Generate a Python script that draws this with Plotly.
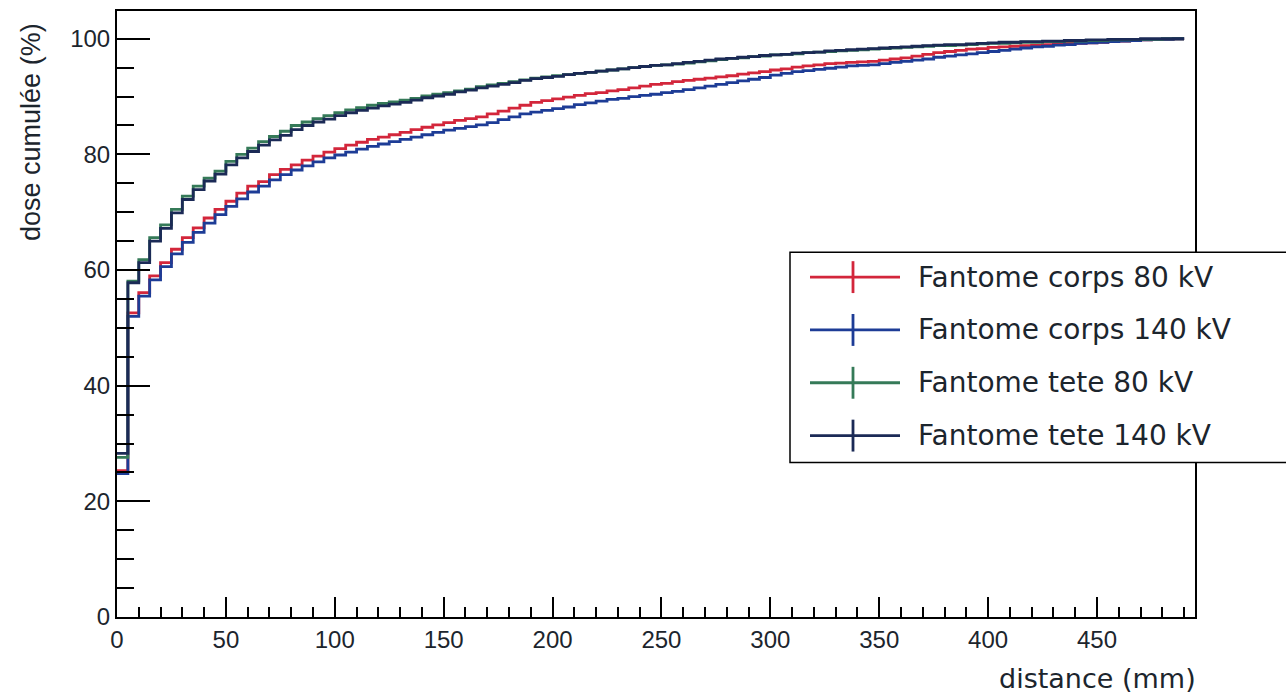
import plotly.graph_objects as go

# Cumulative dose histograms, 5 mm bins starting at 0 mm
BIN_WIDTH = 5.0

series_names = [
    "Fantome corps 80 kV",
    "Fantome corps 140 kV",
    "Fantome tete 80 kV",
    "Fantome tete 140 kV",
]

corps_80kv = [
    25.3, 52.6, 56.1, 59.0, 61.3, 63.6, 65.6, 67.3, 69.0, 70.5,
    71.9, 73.3, 74.5, 75.3, 76.5, 77.4, 78.2, 79.0, 79.7, 80.4,
    81.0, 81.6, 82.1, 82.6, 83.0, 83.4, 83.8, 84.3, 84.7, 85.1,
    85.5, 85.9, 86.2, 86.5, 87.0, 87.5, 88.0, 88.5, 89.0, 89.3,
    89.6, 89.9, 90.2, 90.5, 90.7, 91.0, 91.2, 91.5, 91.8, 92.1,
    92.3, 92.6, 92.8, 93.0, 93.2, 93.4, 93.6, 93.9, 94.1, 94.3,
    94.6, 94.8, 95.1, 95.3, 95.5, 95.7, 95.8, 95.9, 96.0, 96.1,
    96.3, 96.5, 96.7, 97.0, 97.3, 97.6, 97.8, 98.0, 98.2, 98.3,
    98.5, 98.6, 98.7, 98.8, 98.9, 99.0, 99.1, 99.2, 99.2, 99.3,
    99.4, 99.5, 99.6, 99.7, 99.8, 99.9, 99.9, 100.0,
]

corps_140kv = [
    24.8, 52.0, 55.5, 58.3, 60.6, 62.8, 64.8, 66.5, 68.1, 69.6,
    71.0, 72.3, 73.5, 74.5, 75.6, 76.5, 77.3, 78.0, 78.7, 79.4,
    79.9, 80.4, 80.9, 81.4, 81.8, 82.2, 82.6, 83.0, 83.4, 83.8,
    84.2, 84.5, 84.8, 85.1, 85.5, 86.0, 86.5, 87.0, 87.3, 87.6,
    87.9, 88.2, 88.6, 88.9, 89.2, 89.5, 89.7, 90.0, 90.2, 90.4,
    90.7, 90.9, 91.2, 91.5, 91.8, 92.1, 92.4, 92.7, 93.0, 93.3,
    93.7, 94.0, 94.3, 94.5, 94.7, 94.9, 95.1, 95.3, 95.4, 95.5,
    95.7, 95.9, 96.1, 96.3, 96.5, 96.8, 97.0, 97.2, 97.4, 97.6,
    97.8, 98.0, 98.2, 98.4, 98.6, 98.7, 98.9, 99.0, 99.2, 99.3,
    99.4, 99.5, 99.6, 99.7, 99.8, 99.9, 99.9, 100.0,
]

tete_80kv = [
    27.6, 58.1, 61.8, 65.6, 67.8, 70.5, 72.8, 74.5, 75.9, 77.1,
    78.8, 80.0, 81.1, 82.2, 83.1, 84.0, 85.0, 85.6, 86.2, 86.7,
    87.2, 87.7, 88.1, 88.5, 88.8, 89.1, 89.4, 89.7, 90.1, 90.4,
    90.7, 91.0, 91.3, 91.7, 92.0, 92.3, 92.6, 92.9, 93.2, 93.4,
    93.6, 93.8, 94.0, 94.2, 94.4, 94.6, 94.8, 95.0, 95.2, 95.4,
    95.5, 95.6, 95.8, 96.0, 96.2, 96.4, 96.6, 96.7, 96.9, 97.0,
    97.2, 97.3, 97.4, 97.6, 97.7, 97.8, 97.9, 98.0, 98.1, 98.2,
    98.3, 98.4, 98.5, 98.6, 98.7, 98.8, 98.8, 98.9, 99.0, 99.1,
    99.2, 99.2, 99.3, 99.4, 99.4, 99.5, 99.5, 99.6, 99.6, 99.7,
    99.7, 99.8, 99.8, 99.9, 99.9, 99.9, 100.0, 100.0,
]

tete_140kv = [
    28.3, 57.8, 61.3, 65.0, 67.2, 69.9, 72.2, 73.9, 75.4, 76.6,
    78.2, 79.4, 80.5, 81.6, 82.5, 83.3, 84.3, 85.0, 85.6, 86.1,
    86.7, 87.2, 87.6, 88.0, 88.4, 88.7, 89.0, 89.4, 89.8, 90.1,
    90.4, 90.8, 91.1, 91.5, 91.8, 92.1, 92.4, 92.8, 93.1, 93.3,
    93.5, 93.8, 94.0, 94.2, 94.4, 94.6, 94.8, 95.0, 95.2, 95.4,
    95.5, 95.7, 95.9, 96.1, 96.3, 96.5, 96.6, 96.8, 96.9, 97.1,
    97.2, 97.3, 97.5, 97.6, 97.7, 97.9, 98.0, 98.1, 98.2, 98.3,
    98.4, 98.5, 98.6, 98.7, 98.8, 98.9, 99.0, 99.0, 99.1, 99.2,
    99.3, 99.4, 99.4, 99.5, 99.5, 99.6, 99.6, 99.7, 99.7, 99.8,
    99.8, 99.9, 99.9, 99.9, 100.0, 100.0, 100.0, 100.0,
]

series_values = [corps_80kv, corps_140kv, tete_80kv, tete_140kv]
series_colors = ["#d3263b", "#1d3c96", "#357a58", "#1b2a56"]

X_RANGE = [0, 495]
Y_RANGE = [0, 104.8]
X_TICKS = [0, 50, 100, 150, 200, 250, 300, 350, 400, 450]
Y_TICKS = [0, 20, 40, 60, 80, 100]

W, H = 1286, 694
M_L, M_R, M_T, M_B = 117, 91, 9, 77
PW, PH = W - M_L - M_R, H - M_T - M_B

TEXT_COLOR = "#1c252d"
FONT = "Liberation Sans, Arial, Helvetica, sans-serif"
WIDE_FONT = "DejaVu Sans, Verdana, sans-serif"


def px_to_paper(px, py):
    return (px - M_L) / PW, (H - M_B - py) / PH


fig = go.Figure()

for name, vals, color in zip(series_names, series_values, series_colors):
    edges = [i * BIN_WIDTH for i in range(len(vals) + 1)]
    fig.add_trace(go.Scatter(
        x=edges,
        y=vals + [vals[-1]],
        mode="lines",
        line=dict(color=color, width=2.8, shape="hv"),
        name=name,
        showlegend=False,
        hoverinfo="skip",
    ))

shapes = []
annotations = []

# Legend box (white, drawn over the frame's right edge)
bx0, by0 = px_to_paper(790, 462)
bx1, by1 = px_to_paper(1310, 251)
shapes.append(dict(type="rect", xref="paper", yref="paper",
                   x0=bx0, y0=by0, x1=bx1, y1=by1,
                   line=dict(color="black", width=1.5), fillcolor="white",
                   layer="above"))

row_y = [276, 329, 382, 435]
for name, color, ry in zip(series_names, series_colors, row_y):
    lx0, ly = px_to_paper(810, ry)
    lx1, _ = px_to_paper(900, ry)
    cx, cy0 = px_to_paper(853, ry + 16)
    _, cy1 = px_to_paper(853, ry - 16)
    shapes.append(dict(type="line", xref="paper", yref="paper",
                       x0=lx0, x1=lx1, y0=ly, y1=ly,
                       line=dict(color=color, width=2.8), layer="above"))
    shapes.append(dict(type="line", xref="paper", yref="paper",
                       x0=cx, x1=cx, y0=cy0, y1=cy1,
                       line=dict(color=color, width=2.8), layer="above"))
    tx, ty = px_to_paper(916, ry)
    annotations.append(dict(xref="paper", yref="paper", x=tx, y=ty,
                            xanchor="left", yanchor="middle", showarrow=False,
                            text=name,
                            font=dict(family=WIDE_FONT, size=28, color=TEXT_COLOR)))

# Axis titles, aligned to the axis ends
tx, ty = px_to_paper(1198, 679)
annotations.append(dict(xref="paper", yref="paper", x=tx, y=ty,
                        xanchor="right", yanchor="middle", showarrow=False,
                        text="distance (mm)",
                        font=dict(family=WIDE_FONT, size=27, color=TEXT_COLOR)))
tx, ty = px_to_paper(31, 19)
annotations.append(dict(xref="paper", yref="paper", x=tx, y=ty,
                        xanchor="center", yanchor="top", showarrow=False,
                        textangle=-90, text="dose cumulée (%)",
                        font=dict(family=FONT, size=27, color=TEXT_COLOR)))

fig.update_layout(
    width=W, height=H,
    margin=dict(l=M_L, r=M_R, t=M_T, b=M_B, pad=0),
    paper_bgcolor="white",
    plot_bgcolor="white",
    showlegend=False,
    shapes=shapes,
    annotations=annotations,
    xaxis=dict(
        range=X_RANGE, tickvals=X_TICKS, ticktext=[str(v) for v in X_TICKS],
        ticks="inside", ticklen=20, tickwidth=2, tickcolor="black",
        minor=dict(dtick=10, tick0=0, ticks="inside", ticklen=10,
                   tickwidth=2, tickcolor="black", showgrid=False),
        showline=True, linecolor="black", linewidth=2, mirror=True,
        showgrid=False, zeroline=False,
        tickfont=dict(family=FONT, size=24, color=TEXT_COLOR),
    ),
    yaxis=dict(
        range=Y_RANGE, tickvals=Y_TICKS, ticktext=[str(v) for v in Y_TICKS],
        ticks="inside", ticklen=33, tickwidth=2, tickcolor="black",
        minor=dict(dtick=5, tick0=0, ticks="inside", ticklen=17,
                   tickwidth=2, tickcolor="black", showgrid=False),
        showline=True, linecolor="black", linewidth=2, mirror=True,
        showgrid=False, zeroline=False,
        tickfont=dict(family=FONT, size=24, color=TEXT_COLOR),
    ),
)

fig.write_html("out.html")
